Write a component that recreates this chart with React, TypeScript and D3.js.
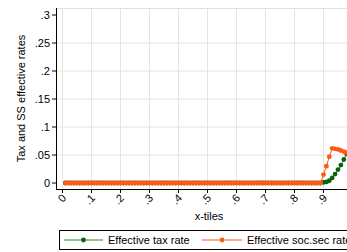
import React from "react";
import * as d3 from "d3";

const xTiles = [
  0.01, 0.02, 0.03, 0.04, 0.05, 0.06, 0.07, 0.08, 0.09, 0.1,
  0.11, 0.12, 0.13, 0.14, 0.15, 0.16, 0.17, 0.18, 0.19, 0.2,
  0.21, 0.22, 0.23, 0.24, 0.25, 0.26, 0.27, 0.28, 0.29, 0.3,
  0.31, 0.32, 0.33, 0.34, 0.35, 0.36, 0.37, 0.38, 0.39, 0.4,
  0.41, 0.42, 0.43, 0.44, 0.45, 0.46, 0.47, 0.48, 0.49, 0.5,
  0.51, 0.52, 0.53, 0.54, 0.55, 0.56, 0.57, 0.58, 0.59, 0.6,
  0.61, 0.62, 0.63, 0.64, 0.65, 0.66, 0.67, 0.68, 0.69, 0.7,
  0.71, 0.72, 0.73, 0.74, 0.75, 0.76, 0.77, 0.78, 0.79, 0.8,
  0.81, 0.82, 0.83, 0.84, 0.85, 0.86, 0.87, 0.88, 0.89, 0.9,
  0.91, 0.92, 0.93, 0.94, 0.95, 0.96, 0.97, 0.98, 0.99, 1.0,
];

const taxRate = [
  0, 0, 0, 0, 0, 0, 0, 0, 0, 0,
  0, 0, 0, 0, 0, 0, 0, 0, 0, 0,
  0, 0, 0, 0, 0, 0, 0, 0, 0, 0,
  0, 0, 0, 0, 0, 0, 0, 0, 0, 0,
  0, 0, 0, 0, 0, 0, 0, 0, 0, 0,
  0, 0, 0, 0, 0, 0, 0, 0, 0, 0,
  0, 0, 0, 0, 0, 0, 0, 0, 0, 0,
  0, 0, 0, 0, 0, 0, 0, 0, 0, 0,
  0, 0, 0, 0, 0, 0, 0, 0, 0, 0.001,
  0.002, 0.004, 0.009, 0.016, 0.024, 0.032, 0.042, 0.052, 0.058, 0.062,
];

const socSecRate = [
  0, 0, 0, 0, 0, 0, 0, 0, 0, 0,
  0, 0, 0, 0, 0, 0, 0, 0, 0, 0,
  0, 0, 0, 0, 0, 0, 0, 0, 0, 0,
  0, 0, 0, 0, 0, 0, 0, 0, 0, 0,
  0, 0, 0, 0, 0, 0, 0, 0, 0, 0,
  0, 0, 0, 0, 0, 0, 0, 0, 0, 0,
  0, 0, 0, 0, 0, 0, 0, 0, 0, 0,
  0, 0, 0, 0, 0, 0, 0, 0, 0, 0,
  0, 0, 0, 0, 0, 0, 0, 0, 0, 0.015,
  0.030, 0.047, 0.062, 0.061, 0.060, 0.058, 0.056, 0.054, 0.052, 0.050,
];

const xTicks = [0, 0.1, 0.2, 0.3, 0.4, 0.5, 0.6, 0.7, 0.8, 0.9, 1];
const xTickLabels = ["0", ".1", ".2", ".3", ".4", ".5", ".6", ".7", ".8", ".9", "1"];
const yTicks = [0, 0.05, 0.1, 0.15, 0.2, 0.25, 0.3];
const yTickLabels = ["0", ".05", ".1", ".15", ".2", ".25", ".3"];
const seriesNames = ["Effective tax rate", "Effective soc.sec rate"];

const W = 347;
const H = 252;
const FONT = "'Liberation Sans', Arial, sans-serif";
const GREEN_LINE = "#2a8a2a";
const GREEN_MARK = "#0a620a";
const ORANGE = "#ff5a14";

export default function App() {
  const plotLeft = 56;
  const plotRight = 362;
  const plotTop = 8;
  const plotBottom = 189;
  const x = d3.scaleLinear().domain([0, 1]).range([62.5, 352.5]);
  const y = d3.scaleLinear().domain([0, 0.3]).range([183, 15]);

  const line = d3
    .line<number>()
    .x((_, i) => x(xTiles[i]))
    .y((d) => y(d));

  const series = [
    { vals: taxRate, line: GREEN_LINE, mark: GREEN_MARK },
    { vals: socSecRate, line: ORANGE, mark: ORANGE },
  ];

  return (
    <svg
      width={W}
      height={H}
      style={{ position: "absolute", left: 0, top: 0, background: "#fff" }}
      fontFamily={FONT}
    >
      <rect x={0} y={0} width={W} height={H} fill="#fff" />
      {yTicks
        .filter((t) => t > 0 && t < 0.3)
        .map((t) => (
          <line key={"gy" + t} x1={plotLeft} x2={plotRight} y1={y(t)} y2={y(t)} stroke="#e4e4e4" strokeWidth={1} />
        ))}
      {xTicks.map((t) => (
        <line key={"gx" + t} x1={x(t)} x2={x(t)} y1={plotTop} y2={plotBottom} stroke="#e4e4e4" strokeWidth={1} />
      ))}
      <line x1={plotLeft} x2={plotRight} y1={plotTop + 0.5} y2={plotTop + 0.5} stroke="#cfe6ea" strokeWidth={1} />
      {series.map((s, si) => (
        <g key={"s" + si}>
          <path d={line(s.vals) || ""} fill="none" stroke={s.line} strokeWidth={1} />
          {s.vals.map((v, i) => (
            <circle key={i} cx={x(xTiles[i])} cy={y(v)} r={2.4} fill={s.mark} />
          ))}
        </g>
      ))}
      <line x1={plotLeft + 0.5} x2={plotLeft + 0.5} y1={plotTop} y2={plotBottom + 0.5} stroke="#000" strokeWidth={1} />
      <line x1={plotLeft} x2={plotRight} y1={plotBottom + 0.5} y2={plotBottom + 0.5} stroke="#000" strokeWidth={1} />
      {yTicks.map((t, i) => (
        <g key={"yt" + t}>
          <line x1={plotLeft - 4} x2={plotLeft} y1={y(t)} y2={y(t)} stroke="#000" />
          <text x={plotLeft - 6} y={y(t)} dy="0.35em" textAnchor="end" fontSize={11} fill="#000">
            {yTickLabels[i]}
          </text>
        </g>
      ))}
      {xTicks.map((t, i) => (
        <g key={"xt" + t}>
          <line x1={x(t)} x2={x(t)} y1={plotBottom} y2={plotBottom + 4} stroke="#000" />
          <text
            transform={`translate(${x(t) + 1.5},${plotBottom + 7}) rotate(-45)`}
            textAnchor="end"
            dy="0.35em"
            fontSize={11}
            fill="#000"
          >
            {xTickLabels[i]}
          </text>
        </g>
      ))}
      <text x={(plotLeft + plotRight) / 2} y={216} dy="0.35em" textAnchor="middle" fontSize={11} fill="#000">
        x-tiles
      </text>
      <text
        transform={`translate(21,${(plotTop + plotBottom) / 2}) rotate(-90)`}
        textAnchor="middle"
        dy="0.35em"
        fontSize={11}
        fill="#000"
      >
        Tax and SS effective rates
      </text>
      <rect x={59.5} y={230.5} width={300} height={19} fill="#fff" stroke="#000" strokeWidth={1} />
      <line x1={64} x2={103} y1={240} y2={240} stroke={GREEN_LINE} strokeWidth={1} />
      <circle cx={83.5} cy={240} r={2.4} fill={GREEN_MARK} />
      <text x={108} y={240} dy="0.35em" fontSize={11} fill="#000">
        {seriesNames[0]}
      </text>
      <line x1={202} x2={242} y1={240} y2={240} stroke={ORANGE} strokeWidth={1} />
      <circle cx={222} cy={240} r={2.4} fill={ORANGE} />
      <text x={247} y={240} dy="0.35em" fontSize={11} fill="#000">
        {seriesNames[1]}
      </text>
    </svg>
  );
}
